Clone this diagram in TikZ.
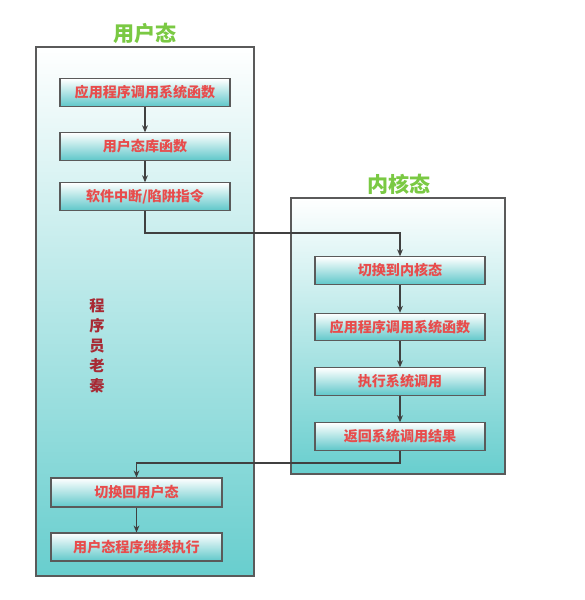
\documentclass[tikz,border=0pt]{standalone}
\usepackage{fontspec}
\setmainfont{Noto Sans CJK SC}
\usetikzlibrary{arrows.meta}
\definecolor{tealbot}{RGB}{104,206,206}
\definecolor{boxbot}{RGB}{96,200,202}
\definecolor{redtext}{RGB}{232,76,76}
\definecolor{greentitle}{RGB}{122,201,67}
\definecolor{signred}{RGB}{168,42,52}
\definecolor{framegray}{RGB}{90,90,90}

\begin{document}
\begin{tikzpicture}[x=0.03cm,y=-0.03cm,
  frame/.style={draw=framegray, line width=0.9pt, top color=white, bottom color=tealbot},
  callbox/.style={draw=framegray, line width=0.9pt, top color=white, bottom color=boxbot,
    minimum width=5.1cm, minimum height=0.82cm, inner sep=0pt,
    font=\fontsize{12}{14}\selectfont\bfseries, text=redtext},
  title/.style={font=\fontsize{18}{20}\selectfont\bfseries, text=greentitle},
  link/.style={draw=black!75, line width=0.9pt, -{Stealth[length=6pt,width=5pt]}}]
  \useasboundingbox (0,0) rectangle (584,600);
  % the two modes
  \draw[frame] (36,47) rectangle (254,576);
  \draw[frame] (291,198) rectangle (505,474);
  \node[title] (usertitle) at (145,33) {用户态};
  \node[title] (kerneltitle) at (399,184) {内核态};
  % user side
  \node[callbox] (call) at (145,92.5) {应用程序调用系统函数};
  \node[callbox] (lib) at (145,146.5) {用户态库函数};
  \node[callbox] (trap) at (145,196.5) {软件中断/陷阱指令};
  % kernel side
  \node[callbox] (enter) at (400,270.5) {切换到内核态};
  \node[callbox] (kcall) at (400,327) {应用程序调用系统函数};
  \node[callbox] (exec) at (400,381.5) {执行系统调用};
  \node[callbox] (ret) at (400,436.5) {返回系统调用结果};
  % back to user
  \node[callbox, minimum width=5.13cm, minimum height=0.87cm] (back) at (136.5,492.5) {切换回用户态};
  \node[callbox, minimum width=5.13cm, minimum height=0.84cm] (cont) at (136.5,547) {用户态程序继续执行};
  \node[text=signred, font=\fontsize{13}{17}\selectfont\bfseries, align=center] (sign) at (97,346) {程\\序\\员\\老\\秦};
  \coordinate (turnA) at (145,233);
  \coordinate (turnB) at (400,463);
  \draw[link] (call) -- (lib);
  \draw[link] (lib) -- (trap);
  \draw[link] (trap.south) -- (turnA) -| (enter.north);
  \draw[link] (enter) -- (kcall);
  \draw[link] (kcall) -- (exec);
  \draw[link] (exec) -- (ret);
  \draw[link] (ret.south) -- (turnB) -| (back.north);
  \draw[link] (back) -- (cont);
\end{tikzpicture}
\end{document}
